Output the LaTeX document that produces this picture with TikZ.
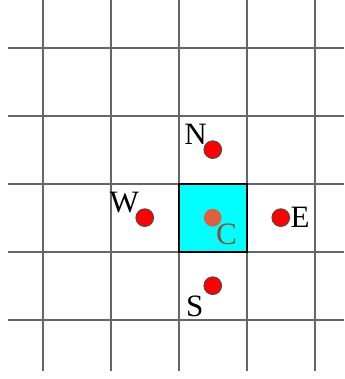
\documentclass[tikz,border=0pt]{standalone}
\usepackage{fontspec}
\setmainfont{Liberation Serif}
\usetikzlibrary{positioning}
\definecolor{cellcyan}{RGB}{0,255,255}
\definecolor{cdot}{RGB}{222,96,64}
\definecolor{ctext}{RGB}{140,80,50}
\begin{document}
\begin{tikzpicture}[
  x=1cm, y=1cm,
  gridline/.style={black!60,line width=0.8pt},
  pt/.style={circle,fill=red,draw=black!70,line width=0.4pt,inner sep=0pt,minimum size=0.26cm},
  lbl/.style={inner sep=0.5pt,font=\fontsize{13}{15}\selectfont},
]
  \useasboundingbox (-0.628,-0.872) rectangle (4.43,4.70);

  % the centre cell
  \fill[cellcyan] (2,1) rectangle (3,2);

  % grid
  \foreach \i in {0,...,4} {
    \draw[gridline] (\i,4.70) -- (\i,-0.75);
    \draw[gridline] (-0.51,\i) -- (4.43,\i);
  }
  \draw[black,line width=0.8pt] (2,1) rectangle (3,2);

  % points at the cell centres
  \node[pt,fill=cdot,draw=none] (C) at (2.5,1.5) {};
  \node[pt] (N) at (2.5,2.5) {};
  \node[pt] (S) at (2.5,0.5) {};
  \node[pt] (W) at (1.5,1.5) {};
  \node[pt] (E) at (3.5,1.5) {};

  \node[lbl,above left=-1.3pt and -1pt of N] (Nl) {N};
  \node[lbl,above left=-1.3pt and -1pt of W] (Wl) {W};
  \node[lbl,right=-0.5pt of E] (El) {E};
  \node[lbl,below left=1pt and 0.5pt of S] (Sl) {S};
  \node[lbl,text=ctext,below right=-1pt and -2pt of C] (Cl) {C};
\end{tikzpicture}
\end{document}
